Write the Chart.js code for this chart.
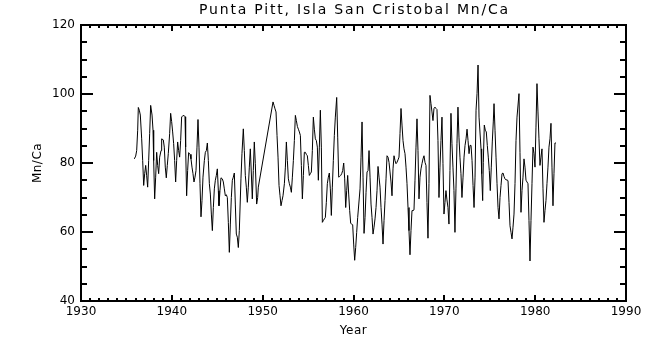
<!DOCTYPE html>
<html>
<head>
<meta charset="utf-8">
<script src="https://cdn.jsdelivr.net/npm/chart.js@4/dist/chart.umd.min.js"></script>
<style>
  html, body { margin: 0; padding: 0; background: #fff; }
  #wrap { width: 650px; height: 350px; position: relative; }
</style>
</head>
<body>
<div id="wrap"><canvas id="c" width="650" height="350"></canvas></div>
<script>
// Sample dates (decimal years) of the coral Mn/Ca record
const years = [
  1935.87,1936.02,1936.13,1936.24,1936.31,1936.42,1936.53,1936.68,1936.79,1936.90,
  1937.01,1937.12,1937.23,1937.34,1937.45,1937.56,1937.67,1937.82,1937.93,1938.00,
  1938.11,1938.22,1938.33,1938.44,1938.55,1938.66,1938.81,1938.88,1939.06,1939.17,
  1939.28,1939.39,1939.50,1939.61,1939.76,1939.87,1939.98,1940.09,1940.20,1940.31,
  1940.42,1940.53,1940.64,1940.75,1940.86,1940.97,1941.08,1941.19,1941.34,1941.45,
  1941.52,1941.63,1941.74,1941.85,1942.00,1942.11,1942.22,1942.33,1942.44,1942.55,
  1942.66,1942.77,1942.88,1942.99,1943.10,1943.21,1943.32,1943.43,1943.58,1943.69,
  1943.80,1943.91,1944.02,1944.13,1944.24,1944.35,1944.46,1944.57,1944.68,1944.79,
  1944.90,1945.01,1945.12,1945.19,1945.30,1945.41,1945.56,1945.67,1945.78,1945.89,
  1946.00,1946.11,1946.22,1946.33,1946.44,1946.55,1946.66,1946.77,1946.88,1946.99,
  1947.10,1947.21,1947.32,1947.43,
  1947.61,1947.72,1947.87,1947.98,1948.09,1948.20,1948.31,1948.42,1948.53,1948.64,
  1948.75,1948.86,1948.97,1949.08,1949.19,1949.34,1949.45,1949.52,1951.14,1951.25,
  1951.36,1951.47,1951.58,1951.69,1951.80,1951.91,1952.02,1952.13,1952.24,1952.39,
  1952.50,1952.61,1952.72,1952.83,1952.94,1953.05,1953.16,1953.27,1953.38,1953.49,
  1953.60,1953.71,1953.82,1953.93,1954.04,1954.15,1954.26,1954.37,1954.48,1954.59,
  1954.70,1954.81,1954.92,1955.03,1955.14,1955.25,1955.36,1955.47,1955.58,1955.69,
  1955.80,1955.91,1956.02,1956.13,1956.24,1956.35,1956.46,1956.57,1956.68,1956.79,
  1956.90,1957.01,1957.12,1957.23,1957.34,1957.45,1957.56,1957.67,1957.78,1957.89,
  1958.00,1958.15,1958.26,1958.37,1958.48,1958.59,1958.70,1958.81,1958.92,1959.03,
  1959.14,1959.25,1959.36,1959.47,1959.58,1959.69,1959.80,1959.91,1960.02,1960.13,
  1960.24,1960.35,1960.46,
  1960.72,1960.83,1960.94,1961.05,1961.16,1961.27,1961.38,1961.49,1961.60,1961.71,
  1961.82,1961.93,1962.04,1962.15,1962.26,1962.37,1962.48,1962.59,1962.70,1962.81,
  1962.92,1963.03,1963.14,1963.25,1963.36,1963.47,1963.58,1963.69,1963.80,1963.91,
  1964.02,1964.13,1964.24,1964.35,1964.46,1964.57,1964.68,1964.79,1964.90,1965.01,
  1965.12,1965.23,1965.34,1965.45,1965.56,1965.67,1965.78,1965.89,1966.00,1966.11,
  1966.22,1966.33,1966.44,1966.55,1966.66,1966.77,1966.88,1966.99,1967.10,1967.21,
  1967.32,1967.43,1967.54,1967.65,1967.76,1967.87,1967.98,1968.09,1968.20,1968.31,
  1968.42,1968.53,1968.64,1968.75,1968.86,1968.97,1969.08,1969.19,1969.30,1969.41,
  1969.52,1969.63,1969.74,1969.85,1969.96,1970.07,1970.18,1970.29,1970.40,1970.51,
  1970.62,1970.73,1970.84,1970.95,1971.06,1971.17,1971.28,1971.39,1971.50,1971.61,
  1971.72,1971.83,1971.94,1972.06,1972.17,1972.28,1972.39,1972.50,1972.61,1972.72,
  1972.83,1972.94,1973.05,1973.16,1973.27,1973.38,1973.49,1973.60,1973.71,1973.82,
  1974.04,1974.11,1974.22,1974.29,1974.40,1974.51,1974.62,1974.73,1974.84,1974.95,
  1975.06,1975.17,1975.28,1975.39,1975.47,1975.58,1975.69,1975.80,1975.91,1976.02,
  1976.13,1976.24,1976.35,1976.46,1976.57,1976.68,1976.79,1976.90,1977.01,1977.12,
  1977.23,1977.34,1977.45,1977.56,1977.67,1977.78,1977.89,1978.00,1978.22,1978.33,
  1978.44,1978.55,1978.66,1978.77,1978.88,1978.99,1979.10,1979.21,1979.32,1979.43,
  1979.54,1979.65,1979.76,1979.87,1979.98,1980.09,1980.20,1980.31,1980.42,1980.53,
  1980.64,1980.75,1980.86,1980.97,1981.08,1981.19,1981.30,1981.41,1981.52,1981.63,
  1981.74,1981.85,1981.96,1982.07,1982.18,1982.29
];

// Mn/Ca ratio at each sample date
const mnCa = [
  81.2,82.0,83.6,89.5,96.1,95.3,93.9,87.0,80.7,73.5,
  76.9,79.3,76.3,73.0,80.7,88.5,96.7,93.9,89.5,80.7,
  69.6,75.9,83.1,79.3,76.9,81.7,83.6,87.0,86.7,84.6,
  78.8,75.7,79.3,82.7,88.5,94.4,92.0,89.0,85.6,80.7,
  74.5,80.7,86.1,83.6,81.7,86.5,93.4,93.6,93.8,93.4,
  84.6,70.5,77.8,83.0,82.5,81.2,78.8,76.9,74.5,75.9,
  77.8,84.6,92.6,84.6,74.0,64.4,69.1,75.9,80.7,83.1,
  83.6,85.8,80.7,74.0,71.0,65.2,60.4,67.1,72.5,75.0,
  76.4,78.3,72.0,67.6,72.0,75.7,75.4,74.5,72.5,70.5,
  70.8,70.0,62.8,54.1,62.3,70.0,75.0,75.9,77.1,68.1,
  59.4,58.5,55.5,60.4,
  75.4,82.7,89.9,83.6,76.4,73.0,68.6,73.0,78.8,84.1,
  77.1,69.6,77.8,86.1,79.8,68.1,70.0,73.0,97.7,96.7,
  95.7,94.8,88.0,81.7,73.5,70.5,67.6,69.1,70.5,74.0,
  78.8,86.1,80.7,75.4,74.0,73.0,71.5,75.9,80.7,86.5,
  93.8,92.3,90.6,89.8,89.0,88.0,79.3,69.6,76.4,83.1,
  83.1,82.5,82.1,79.3,76.4,76.9,77.4,83.6,93.3,89.8,
  87.0,86.5,84.6,75.0,84.6,95.3,84.6,62.8,63.3,63.8,
  64.2,68.6,74.0,75.9,77.1,72.5,64.8,73.0,80.7,88.0,
  93.3,99.0,87.5,75.9,76.1,76.4,76.9,77.8,80.0,75.4,
  67.1,72.0,76.4,71.0,66.2,62.5,62.3,62.1,56.5,51.8,
  55.5,59.9,64.2,
  72.5,81.7,91.9,75.9,59.6,64.2,71.5,77.4,77.8,83.6,
  75.9,68.1,64.2,59.4,61.4,63.8,67.1,72.0,79.0,75.9,
  73.0,67.1,62.3,56.5,63.3,69.1,75.4,82.1,81.7,80.2,
  77.4,74.5,70.5,78.3,82.1,80.7,79.8,80.2,80.9,81.7,
  88.5,95.8,91.0,86.5,84.1,82.7,78.8,74.0,67.1,60.4,
  53.4,60.4,66.2,66.2,66.4,75.0,84.6,92.8,83.6,69.6,
  75.9,78.3,79.8,81.2,82.1,80.2,79.3,68.6,58.2,74.0,
  99.6,97.2,94.8,92.3,95.8,96.2,95.8,95.5,86.5,70.0,
  78.8,86.5,93.3,79.8,65.2,68.6,72.0,69.3,67.1,62.3,
  77.8,94.4,85.6,78.8,72.0,59.9,72.5,85.6,96.2,87.5,
  81.7,76.9,70.0,75.9,81.7,85.1,87.0,89.8,86.5,82.7,
  85.1,85.1,80.7,73.5,67.1,75.9,95.3,100.1,108.4,93.3,
  84.1,76.9,69.1,80.2,91.0,89.5,89.0,85.1,81.7,77.8,
  72.0,78.8,86.1,91.9,97.2,89.5,81.7,74.0,67.1,63.8,
  70.0,73.5,76.9,77.1,76.1,75.4,75.1,75.1,74.9,68.6,
  61.8,59.9,58.0,61.4,65.2,74.0,86.5,93.3,100.1,83.1,
  65.7,72.0,75.9,81.2,78.8,75.0,74.5,74.0,63.3,51.6,
  63.3,74.0,84.6,82.7,78.8,90.4,103.0,94.8,87.0,79.3,
  81.7,84.1,72.7,62.8,66.2,69.1,74.0,78.8,84.6,87.0,
  91.5,78.8,67.6,76.9,85.8,85.8
];

// Axis tick labels
const xTicks = [1930, 1940, 1950, 1960, 1970, 1980, 1990];
const yTicks = [40, 60, 80, 100, 120];

const titleText = 'Punta Pitt, Isla San Cristobal Mn/Ca';
const xTitle = 'Year';
const yTitle = 'Mn/Ca';

const FONT = '"DejaVu Sans", sans-serif';

// Boxed frame with inward tick marks, plus the title and axis titles
const decorPlugin = {
  id: 'plotDecor',
  afterDraw(chart) {
    const ctx = chart.ctx;
    const a = chart.chartArea;
    const xs = chart.scales.x;
    const ys = chart.scales.y;
    const L = Math.round(a.left), R = Math.round(a.right);
    const T = Math.round(a.top), B = Math.round(a.bottom);

    ctx.save();
    ctx.globalAlpha = 1;
    ctx.globalCompositeOperation = 'source-over';
    ctx.fillStyle = '#000';

    // frame, 2px wide, centred on the chart-area edges
    ctx.fillRect(L - 1, T - 1, R - L + 2, 2);
    ctx.fillRect(L - 1, B - 1, R - L + 2, 2);
    ctx.fillRect(L - 1, T - 1, 2, B - T + 2);
    ctx.fillRect(R - 1, T - 1, 2, B - T + 2);

    // x ticks: one per year, longer every decade
    for (let v = 1930; v <= 1990; v += 1) {
      const px = Math.round(xs.getPixelForValue(v));
      const len = (v % 10 === 0) ? 6 : 3;
      ctx.fillRect(px - 1, B - len, 2, len);
      ctx.fillRect(px - 1, T, 2, len);
    }
    // y ticks: every 5 units, longer every 20
    for (let v = 40; v <= 120; v += 5) {
      const py = Math.round(ys.getPixelForValue(v));
      const len = (v % 20 === 0) ? 12 : 6;
      ctx.fillRect(L, py - 1, len, 2);
      ctx.fillRect(R - len, py - 1, len, 2);
    }

    const cx = (a.left + a.right) / 2;
    ctx.textAlign = 'center';
    ctx.textBaseline = 'middle';
    ctx.font = '14px ' + FONT;
    if ('letterSpacing' in ctx) ctx.letterSpacing = '1.8px';
    ctx.fillText(titleText, cx + 1, 10);
    if ('letterSpacing' in ctx) ctx.letterSpacing = '0.5px';
    ctx.font = '12px ' + FONT;
    ctx.fillText(xTitle, cx, 331);
    ctx.translate(38, (a.top + a.bottom) / 2);
    ctx.rotate(-Math.PI / 2);
    ctx.fillText(yTitle, 0, 0);
    ctx.restore();
  }
};

new Chart(document.getElementById('c'), {
  type: 'line',
  data: {
    datasets: [{
      data: years.map((yr, i) => ({ x: yr, y: mnCa[i] })),
      borderColor: '#000',
      borderWidth: 1,
      pointRadius: 0,
      tension: 0,
      fill: false
    }]
  },
  options: {
    responsive: false,
    devicePixelRatio: 1,
    animation: false,
    events: [],
    layout: { padding: { top: 25, right: 24, left: 0, bottom: 0 } },
    plugins: { legend: { display: false }, tooltip: { enabled: false }, title: { display: false } },
    scales: {
      x: {
        type: 'linear',
        min: 1930,
        max: 1990,
        afterBuildTicks: s => { s.ticks = xTicks.map(v => ({ value: v })); },
        afterFit: s => { s.height = 49; },
        grid: { display: false, drawTicks: false },
        border: { display: false },
        ticks: {
          autoSkip: false,
          maxRotation: 0,
          padding: 4,
          color: '#000',
          font: { family: FONT, size: 12 },
          callback: v => String(v)
        }
      },
      y: {
        type: 'linear',
        min: 40,
        max: 120,
        afterBuildTicks: s => { s.ticks = yTicks.map(v => ({ value: v })); },
        afterFit: s => { s.width = 81; },
        grid: { display: false, drawTicks: false },
        border: { display: false },
        ticks: {
          padding: 6,
          color: '#000',
          font: { family: FONT, size: 12 },
          callback: v => String(v)
        }
      }
    }
  },
  plugins: [decorPlugin]
});
</script>
</body>
</html>
